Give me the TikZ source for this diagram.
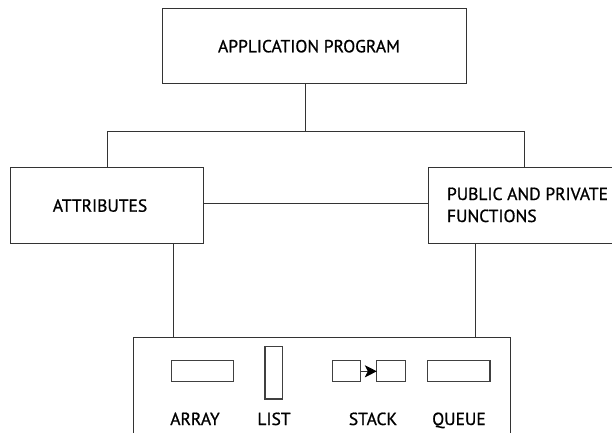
\documentclass[tikz,border=0pt]{standalone}
\usepackage{fontspec}
\setmainfont[FakeBold=0.9]{PT Sans}
\usetikzlibrary{arrows.meta,calc}
\begin{document}
\begin{tikzpicture}[x=1pt,y=-1pt,
  line width=1pt,
  every node/.style={font=\fontsize{17.5}{22}\selectfont, text=black},
  box/.style={draw=black!80, rectangle, inner sep=0pt, outer sep=0pt},
  link/.style={draw=black!80, line width=1pt},
  cell/.style={draw=black!75, rectangle, line width=1.2pt, inner sep=0pt, outer sep=0pt},
  tag/.style={anchor=base, inner sep=0pt}
]
\useasboundingbox (0,0) rectangle (612,432);
\fill[white] (0,0) rectangle (612,432);
\clip (0,0) rectangle (612,432);

% main boxes
\node[box, minimum width=304pt, minimum height=75pt] (app) at (314.5,45.8) {};
\node[tag] at (309,52.3) {APPLICATION PROGRAM};

\node[box, minimum width=193pt, minimum height=76pt] (attr) at (107.4,205.3) {};
\node[tag] at (100,211.7) {ATTRIBUTES};

\node[box, minimum width=191pt, minimum height=76pt] (pub) at (524,205.3) {};
\node[tag, anchor=base west, align=left] at (446.5,200) {PUBLIC AND PRIVATE};
\node[tag, anchor=base west] at (446.5,222) {FUNCTIONS};

\node[box, minimum width=377pt, minimum height=130pt] (ds) at (322,402) {};

% connectors
\coordinate (drop) at ([xshift=-9pt]app.south);
\coordinate (bus) at ($(drop)+(0,48)$);
\draw[link] (drop) -- (bus);
\draw[link] (attr.north) |- (bus) -| (pub.north);
\draw[link] (attr.east |- 0,203.3) -- (pub.west |- 0,203.3);
\draw[link] ([xshift=65.6pt]attr.south) -- ([xshift=65.6pt]attr.south |- ds.north);
\draw[link] ([xshift=-49pt]pub.south) -- ([xshift=-49pt]pub.south |- ds.north);

% data structure icons
\node[cell, minimum width=61.6pt, minimum height=21pt] (array) at (202.5,371.3) {};
\node[cell, minimum width=17.7pt, minimum height=52.3pt] (list) at (273.9,372.9) {};
\node[cell, minimum width=28pt, minimum height=21pt] (stackA) at (346.5,371.3) {};
\node[cell, minimum width=28.3pt, minimum height=21pt] (stackB) at (391,371.3) {};
\node[cell, minimum width=62.5pt, minimum height=21pt] (queue) at (458.7,371.3) {};
\draw[draw=black!80, line width=1pt, -{Stealth[length=12pt,width=12pt,inset=3pt,black]}] (stackA.east) -- (stackB.west);

\node[tag] at (195,425) {ARRAY};
\node[tag] at (274,425) {LIST};
\node[tag] at (373,425) {STACK};
\node[tag] at (459,425) {QUEUE};
\end{tikzpicture}
\end{document}
